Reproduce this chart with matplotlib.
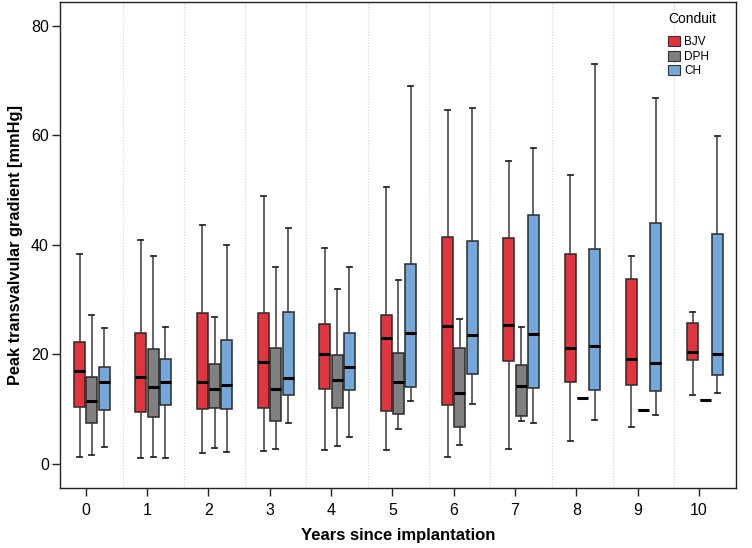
import matplotlib
matplotlib.use("Agg")
import matplotlib.pyplot as plt
from matplotlib.patches import Patch

plt.rcParams['font.family'] = ['Liberation Sans', 'DejaVu Sans']

years = list(range(11))
conduits = ["BJV", "DPH", "CH"]
colors = {"BJV": "#E2343C", "DPH": "#808080", "CH": "#74A7DA"}

# per year: [whisker low, Q1, median, Q3, whisker high]
bjv = [
    [1.3, 10.4, 17.0, 22.2, 38.4],
    [1.0, 9.5, 15.9, 23.9, 40.9],
    [2.0, 10.0, 14.9, 27.6, 43.6],
    [2.4, 10.2, 18.6, 27.6, 48.9],
    [2.5, 13.6, 20.1, 25.6, 39.5],
    [2.5, 9.7, 23.0, 27.2, 50.5],
    [1.3, 10.7, 25.2, 41.4, 64.6],
    [2.7, 18.8, 25.4, 41.3, 55.3],
    [4.1, 15.0, 21.1, 38.4, 52.7],
    [6.7, 14.4, 19.2, 33.8, 37.9],
    [12.5, 18.9, 20.4, 25.7, 27.8],
]
dph = [
    [1.7, 7.4, 11.4, 15.9, 27.1],
    [1.3, 8.5, 14.1, 20.9, 37.9],
    [2.9, 10.2, 13.7, 18.2, 26.9],
    [2.7, 7.9, 13.6, 21.2, 35.9],
    [3.2, 10.2, 15.3, 19.9, 32.0],
    [6.4, 9.2, 14.9, 20.3, 33.6],
    [3.4, 6.8, 13.0, 21.2, 26.4],
    [7.9, 8.7, 14.3, 18.0, 25.0],
    [12.1, 12.1, 12.1, 12.1, 12.1],
    [9.9, 9.9, 9.9, 9.9, 9.9],
    [11.7, 11.7, 11.7, 11.7, 11.7],
]
ch = [
    [3.0, 9.9, 14.9, 17.7, 24.9],
    [1.0, 10.8, 14.9, 19.1, 25.0],
    [2.2, 10.0, 14.4, 22.6, 40.0],
    [7.5, 12.5, 15.6, 27.8, 43.0],
    [4.9, 13.5, 17.7, 23.9, 35.9],
    [11.5, 14.0, 23.9, 36.5, 69.0],
    [11.0, 16.4, 23.6, 40.7, 64.9],
    [7.4, 13.8, 23.7, 45.5, 57.7],
    [8.0, 13.5, 21.5, 39.2, 73.0],
    [8.9, 13.3, 18.4, 44.0, 66.9],
    [13.0, 16.2, 20.0, 42.0, 59.9],
]
series = {"BJV": bjv, "DPH": dph, "CH": ch}

fig = plt.figure(figsize=(7.52, 5.48), dpi=100)
ax = fig.add_axes([0.0798, 0.1095, 0.8985, 0.8874])

offsets = {"BJV": -0.1, "DPH": 0.1, "CH": 0.3}
width = 0.18
edge = "#2a2a2a"
for name in conduits:
    stats = []
    for y, (lo, q1, med, q3, hi) in zip(years, series[name]):
        stats.append(dict(whislo=lo, q1=q1, med=med, q3=q3, whishi=hi, fliers=[]))
    pos = [y + offsets[name] for y in years]
    ax.bxp(stats, positions=pos, widths=width, patch_artist=True, showfliers=False,
           capwidths=width * 0.45, manage_ticks=False,
           boxprops=dict(facecolor=colors[name], edgecolor=edge, linewidth=1.1),
           whiskerprops=dict(color="#3a3a3a", linewidth=1.1),
           capprops=dict(color="#2a2a2a", linewidth=1.3),
           medianprops=dict(color="black", linewidth=2.2, solid_capstyle="butt", zorder=5))

for y in years[:-1]:
    ax.axvline(y + 0.6, color="#d0d0d0", linestyle=(0, (1, 1.5)), linewidth=0.8, zorder=0)

ax.set_xlim(-0.42, 10.6)
ax.set_ylim(-4.4, 84.4)
ax.set_xticks(years)
ax.set_xticklabels([str(y) for y in years])
ax.set_yticks([0, 20, 40, 60, 80])
ax.tick_params(axis="both", direction="out", length=6, width=1, labelsize=11.5, color="#222222")
ax.tick_params(axis="y", pad=2)
ax.tick_params(axis="x", pad=5)
for s in ax.spines.values():
    s.set_linewidth(1.0)
    s.set_color("#222222")

ax.set_xlabel("Years since implantation", fontsize=12, fontweight="bold", labelpad=7)
ax.set_ylabel("Peak transvalvular gradient [mmHg]", fontsize=11.8, fontweight="bold", labelpad=6)

handles = [Patch(facecolor=colors[n], edgecolor="#333333", linewidth=0.8) for n in conduits]
leg = ax.legend(handles, conduits, title="Conduit", loc="upper left",
                bbox_to_anchor=(0.9, 0.978), frameon=False, fontsize=8.5,
                title_fontsize=10, handlelength=1.0, handleheight=0.95,
                handletextpad=0.35, labelspacing=0.2, borderpad=0, borderaxespad=0)
leg._legend_box.align = "left"
leg._legend_box.sep = 7

fig.savefig("out.png", dpi=100)
